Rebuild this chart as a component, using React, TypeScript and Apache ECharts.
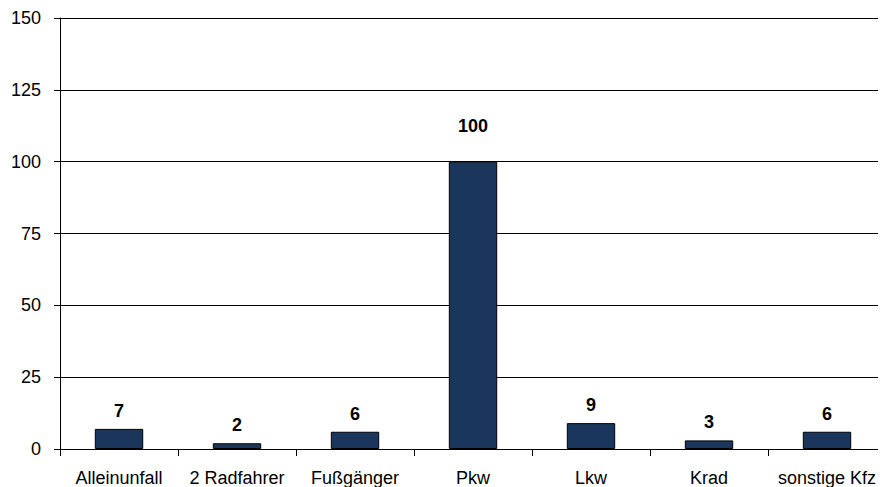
import React, { useEffect, useRef } from "react";
import * as echarts from "echarts";

const categories = ["Alleinunfall", "2 Radfahrer", "Fußgänger", "Pkw", "Lkw", "Krad", "sonstige Kfz"];
const values = [7, 2, 6, 100, 9, 3, 6];
const yTicks = { min: 0, max: 150, interval: 25 };

export default function App() {
  const ref = useRef<HTMLDivElement>(null);
  useEffect(() => {
    if (!ref.current) return;
    const chart = echarts.init(ref.current, null, { renderer: "svg" });
    const font = "Liberation Sans, Arial, sans-serif";
    chart.setOption({
      animation: false,
      backgroundColor: "#ffffff",
      grid: { left: 50, right: 0, top: 10, bottom: 38, containLabel: false },
      xAxis: {
        type: "category",
        data: categories,
        axisLine: { show: true, lineStyle: { color: "#000", width: 1 } },
        axisTick: { show: true, length: 7, lineStyle: { color: "#000" }, alignWithLabel: false },
        axisLabel: { color: "#000", fontSize: 18, fontFamily: font, margin: 20, interval: 0 },
        splitLine: { show: false },
      },
      yAxis: {
        type: "value",
        min: yTicks.min,
        max: yTicks.max,
        interval: yTicks.interval,
        axisLine: { show: true, lineStyle: { color: "#000", width: 1 } },
        axisTick: { show: true, length: 6, lineStyle: { color: "#000" } },
        axisLabel: { color: "#000", fontSize: 18, fontFamily: font, margin: 19 },
        splitLine: { show: true, lineStyle: { color: "#000", width: 1 } },
      },
      series: [
        {
          type: "bar",
          data: values.map((v) => ({
            value: v,
            label: { distance: v >= 100 ? 27 : 9 },
          })),
          barWidth: "41%",
          itemStyle: { color: "#1b365d", borderColor: "#000", borderWidth: 1 },
          label: {
            show: true,
            position: "top",
            color: "#000",
            fontSize: 18,
            fontWeight: "bold",
            fontFamily: font,
          },
        },
      ],
    });
    return () => chart.dispose();
  }, []);
  return <div ref={ref} style={{ width: 878, height: 479 }} />;
}
